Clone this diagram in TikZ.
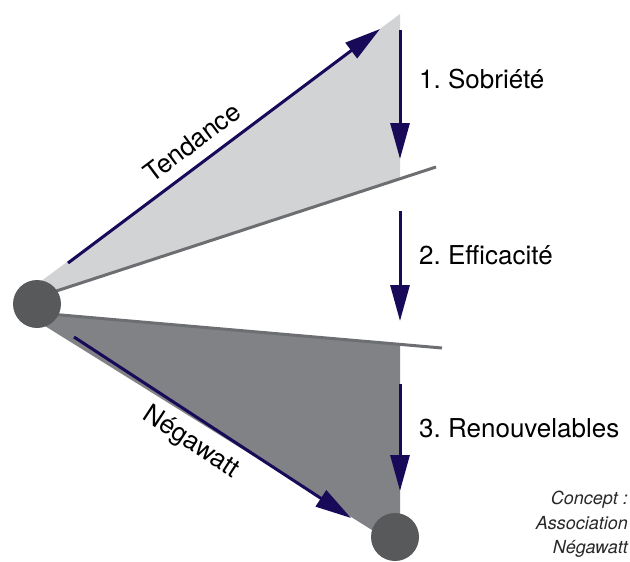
\documentclass[tikz,border=0pt]{standalone}
\usepackage{fontspec}
\setmainfont{TeX Gyre Heros}
\usetikzlibrary{positioning, arrows.meta, calc}
\frenchspacing

\definecolor{navy}{RGB}{24,10,88}
\definecolor{palegrey}{RGB}{209,211,212}
\definecolor{midgrey}{RGB}{128,130,133}
\definecolor{linegrey}{RGB}{109,110,113}
\definecolor{dotgrey}{RGB}{88,89,91}
\definecolor{notegrey}{RGB}{40,40,40}

\begin{document}
\begin{tikzpicture}[x=1pt, y=-1pt,
        dot/.style={circle, fill=dotgrey, minimum size=48pt, inner sep=0pt},
        flow/.style={draw=navy, line width=3pt, -{Triangle[length=36pt, width=19pt]}},
        split/.style={draw=linegrey, line width=3pt},
        lbl/.style={inner sep=0pt, font=\fontsize{26}{30}\selectfont},
        note/.style={inner sep=0pt, align=right, text=notegrey, font=\itshape\fontsize{18}{24.5}\selectfont}]
        \useasboundingbox (0,0) rectangle (630,562);

        \coordinate (srcc) at (37,304);
        \coordinate (dstc) at (395,537);

        % Wedges
        \coordinate (apex) at (400,14);
        \coordinate (uptop) at (40,282);
        \coordinate (s1a) at (38,297);
        \coordinate (s1b) at (436,167);
        \coordinate (c1) at (400,179);
        \coordinate (s2a) at (38,313);
        \coordinate (s2b) at (442,348);
        \coordinate (c2) at (400,344);
        \coordinate (foot) at (400,515);
        \coordinate (lowbot) at (45,326);
        \coordinate (tail) at (380,535);

        \fill[palegrey] (uptop) -- (apex) -- (c1) -- (s1a) -- cycle;
        \fill[midgrey] (s2a) -- (c2) -- (foot) -- (dstc) -- (tail) -- (lowbot) -- cycle;

        \draw[split] (s1a) -- (s1b);
        \draw[split] (s2a) -- (s2b);

        % Arrows
        \coordinate (t0) at (68,263);
        \coordinate (t1) at (380,29);
        \coordinate (n0) at (74,337);
        \coordinate (n1) at (351,518);
        \coordinate (a0) at (400,30);
        \coordinate (a1) at (400,159);
        \coordinate (b0) at (400,211);
        \coordinate (b1) at (400,321);
        \coordinate (r0) at (400,384);
        \coordinate (r1) at (400,491);

        \draw[flow] (t0) -- node [lbl, sloped, above=11pt, pos=0.44] {Tendance} (t1);
        \draw[flow] (n0) -- node [lbl, sloped, below=11pt, pos=0.47] {Négawatt} (n1);
        \draw[flow] (a0) -- (a1);
        \draw[flow] (b0) -- (b1);
        \draw[flow] (r0) -- (r1);

        % Endpoints
        \node[dot] (src) at (srcc) {};
        \node[dot] (dst) at (dstc) {};

        % Steps
        \node[lbl, anchor=west] (sob) at (419,79) {1. Sobriété};
        \node[lbl, anchor=west] (eff) at (419,255) {2. Efficacité};
        \node[lbl, anchor=west] (ren) at (419,428) {3. Renouvelables};

        \node[note, anchor=north east] (credit) at (628,491) {Concept :\\Association\\Négawatt};
    \end{tikzpicture}
\end{document}
